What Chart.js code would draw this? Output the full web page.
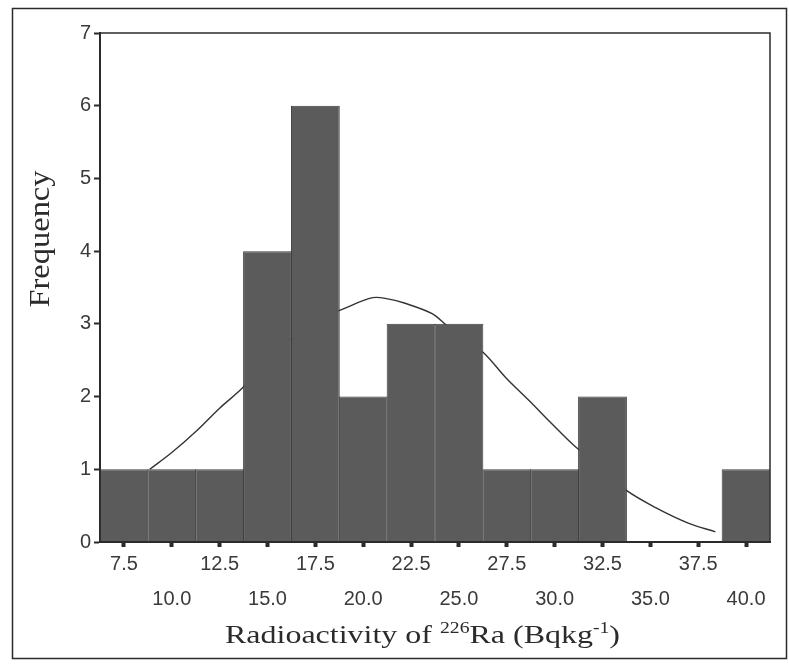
<!DOCTYPE html>
<html>
<head>
<meta charset="utf-8">
<script src="https://cdn.jsdelivr.net/npm/chart.js@4/dist/chart.umd.min.js"></script>
<style>
  html, body { margin: 0; padding: 0; background: #fff; }
  #wrap { width: 789px; height: 665px; }
</style>
</head>
<body>
<div id="wrap"><canvas id="histChart" width="789" height="665"></canvas></div>
<script>
// bin centres and counts
const binCenters = [7.5, 10.0, 12.5, 15.0, 17.5, 20.0, 22.5, 25.0, 27.5, 30.0, 32.5, 35.0, 37.5, 40.0];
const frequency  = [1, 1, 1, 4, 6, 2, 3, 3, 1, 1, 2, 0, 0, 1];

// fitted normal curve
const curveX = [8.85, 10.0, 11.3, 12.5, 13.7, 15.0, 16.5, 18.0, 18.9, 20.5, 21.35, 22.1, 23.6, 24.4, 24.85, 26.3, 27.45, 28.65, 29.84, 31.0, 32.5, 33.75, 35.3, 36.98, 38.4];
const curveY = [1.0, 1.23, 1.53, 1.84, 2.12, 2.5, 2.85, 3.1, 3.2, 3.36, 3.34, 3.29, 3.14, 2.97, 2.9, 2.6, 2.26, 1.95, 1.63, 1.33, 1.0, 0.71, 0.47, 0.26, 0.14];

const xTickLabels = ['7.5', '10.0', '12.5', '15.0', '17.5', '20.0', '22.5', '25.0', '27.5', '30.0', '32.5', '35.0', '37.5', '40.0'];
const yTicks = [0, 1, 2, 3, 4, 5, 6, 7];

const INK = '#2b2b2b';

// frames + axis titles (with superscripts)
const decor = {
  id: 'decor',
  afterDraw(chart) {
    const ctx = chart.ctx;
    const a = chart.chartArea;
    ctx.save();
    ctx.strokeStyle = INK;
    ctx.lineWidth = 1.5;
    ctx.strokeRect(a.left, a.top, a.right - a.left, a.bottom - a.top);
    ctx.strokeRect(12.5, 8.5, 774, 650);

    ctx.fillStyle = INK;
    // x title
    const parts = [
      ['Radioactivity of ', 26, 0],
      ['226', 16, -10],
      ['Ra (Bqkg', 26, 0],
      ['-1', 16, -10],
      [')', 26, 0]
    ];
    let total = 0;
    parts.forEach(p => { ctx.font = p[1] + 'px "Liberation Serif"'; total += ctx.measureText(p[0]).width; });
    const sx = 395 / total;
    ctx.translate(225, 643);
    ctx.scale(sx, 1);
    ctx.textBaseline = 'alphabetic';
    ctx.textAlign = 'left';
    let cx = 0;
    parts.forEach(p => {
      ctx.font = p[1] + 'px "Liberation Serif"';
      ctx.fillText(p[0], cx, p[2]);
      cx += ctx.measureText(p[0]).width;
    });
    ctx.restore();

    // y title
    ctx.save();
    ctx.fillStyle = INK;
    ctx.font = '29px "Liberation Serif"';
    const w = ctx.measureText('Frequency').width;
    ctx.translate(49, 239);
    ctx.rotate(-Math.PI / 2);
    ctx.scale(137 / w, 1);
    ctx.textAlign = 'center';
    ctx.textBaseline = 'alphabetic';
    ctx.fillText('Frequency', 0, 0);
    ctx.restore();
  }
};

new Chart(document.getElementById('histChart'), {
  type: 'bar',
  data: {
    datasets: [
      {
        type: 'bar',
        data: binCenters.map((c, i) => ({ x: c, y: frequency[i] })),
        backgroundColor: '#5b5b5b',
        borderColor: '#3e3e3e',
        borderWidth: 1,
        barPercentage: 1.02,
        categoryPercentage: 1
      },
      {
        type: 'line',
        data: curveX.map((x, i) => ({ x: x, y: curveY[i] })),
        borderColor: '#333',
        borderWidth: 1.4,
        pointRadius: 0,
        tension: 0.35,
        fill: false
      }
    ]
  },
  options: {
    responsive: false,
    animation: false,
    layout: { padding: { top: 33, right: 19, left: 0, bottom: 0 } },
    plugins: { legend: { display: false }, tooltip: { enabled: false } },
    scales: {
      x: {
        type: 'linear',
        min: 6.25,
        max: 41.25,
        offset: false,
        afterFit: s => { s.height = 123; },
        afterBuildTicks: s => { s.ticks = binCenters.map(v => ({ value: v })); },
        grid: { offset: false, drawOnChartArea: false, drawTicks: true, tickLength: 5, tickWidth: 4, tickColor: INK },
        border: { display: true, color: INK, width: 2 },
        ticks: {
          autoSkip: false,
          maxRotation: 0,
          padding: 0,
          color: '#3a3a3a',
          font: { family: '"Liberation Sans"', size: 20, lineHeight: '35px' },
          callback: (v, i) => (i % 2 === 0 ? [xTickLabels[i], ''] : ['', xTickLabels[i]])
        }
      },
      y: {
        min: 0,
        max: 7,
        afterFit: s => { s.width = 100; },
        afterBuildTicks: s => { s.ticks = yTicks.map(v => ({ value: v })); },
        grid: { offset: false, drawOnChartArea: false, drawTicks: true, tickLength: 6, tickWidth: 2, tickColor: INK },
        border: { display: true, color: INK, width: 2 },
        ticks: {
          padding: 3,
          color: '#3a3a3a',
          font: { family: '"Liberation Sans"', size: 20 }
        }
      }
    }
  },
  plugins: [decor]
});
</script>
</body>
</html>
